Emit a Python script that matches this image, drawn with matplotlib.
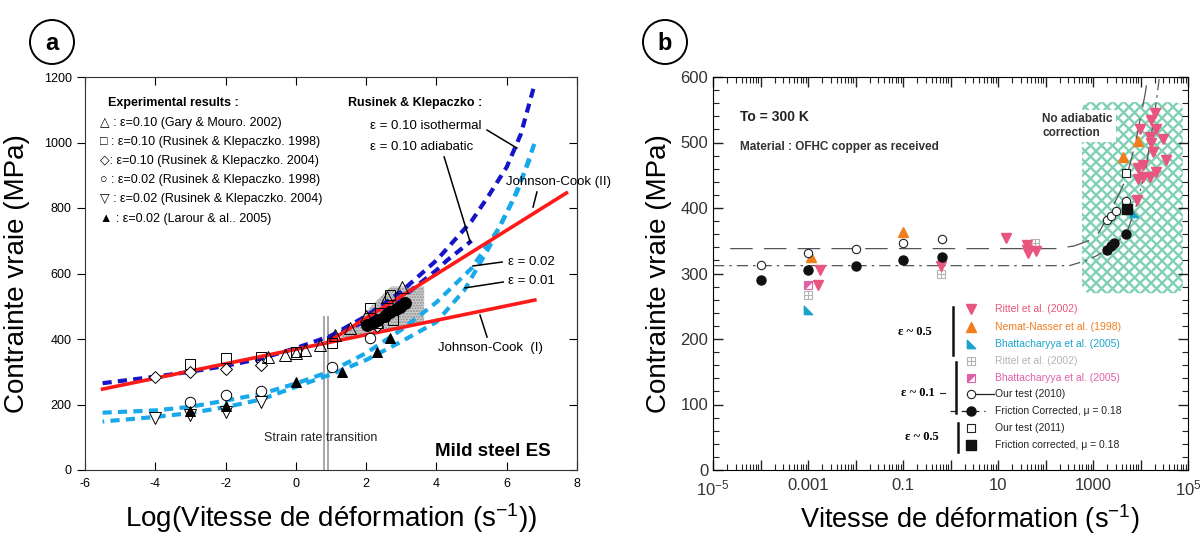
import numpy as np
import matplotlib.pyplot as plt
from matplotlib.patches import FancyBboxPatch, Polygon, Ellipse
from matplotlib.path import Path
from matplotlib.lines import Line2D
from matplotlib.ticker import MultipleLocator, LogLocator, FuncFormatter, NullFormatter

plt.rcParams['font.family'] = ['Liberation Sans', 'DejaVu Sans']
plt.rcParams['mathtext.default'] = 'regular'
plt.rcParams['axes.unicode_minus'] = False

# ---------------- panel a : mild steel ES ----------------
# experimental points (log strain rate, true stress MPa)
sq_x = [-3, -2, -1, 0, 1.03, 2.1, 2.4, 2.68, 2.77]
sq_y = [325, 342, 345, 360, 388, 494, 478, 534, 458]
dia_x = [-4, -3, -2, -1, 2.3]
dia_y = [285, 298, 308, 322, 440]
tri_x = [-0.8, -0.3, 0.0, 0.26, 0.69, 1.11, 1.54, 2.0, 2.3, 2.6, 3.02]
tri_y = [345, 350, 358, 366, 382, 412, 433, 470, 452, 528, 560]
circ_x = [-3, -2, -1, 1.03, 2.11]
circ_y = [208, 228, 242, 315, 403]
dtri_x = [-4, -3, -2, -1]
dtri_y = [159, 168, 177, 208]
ftri_x = [-3, -2, 0, 1.31, 2.3, 2.68]
ftri_y = [180, 196, 268, 299, 360, 403]
fcirc_x = [2.02, 2.2, 2.35, 2.55, 2.68, 2.85, 2.96, 3.1]
fcirc_y = [443, 450, 458, 470, 483, 492, 499, 510]

# Rusinek & Klepaczko model curves
iso_x = [-5.5, -4, -3, -2, -1, 0, 1, 2, 3, 4, 5, 5.5, 6, 6.4, 6.8]
iso_y = [265, 285, 300, 318, 340, 372, 410, 470, 545, 640, 760, 840, 925, 1025, 1180]
adia_x = [0.9, 2, 3, 4, 4.3, 5.0]
adia_y = [402, 455, 525, 610, 640, 700]
e02_x = [-5.5, -4, -3, -2, -1, 0, 1, 2, 3, 4, 5, 5.8, 6.3, 6.8]
e02_y = [175, 182, 193, 212, 232, 264, 302, 357, 428, 512, 616, 742, 850, 1000]
e01_x = [-5.5, -4, -3, -2, -1, 0, 1, 2, 3, 4, 4.8, 5.5, 6.2, 6.7]
e01_y = [148, 162, 174, 192, 215, 254, 292, 336, 392, 452, 550, 680, 830, 960]

# Johnson-Cook fits
jc1_x = [-5.5, 6.8]
jc1_y = [247, 519]
jc2_x = [0.9, 7.7]
jc2_y = [390, 846]

transition_x = [0.80, 0.92]
shade_x = [1.2, 2.7, 3.65, 3.65]
shade_y = [397, 560, 560, 450]

# ---------------- panel b : OFHC copper ----------------
open10_x = [1e-4, 1e-3, 1e-2, 1e-1, 0.66, 2000, 2400, 3000, 5000]
open10_y = [313, 331, 337, 347, 352, 382, 388, 395, 410]
fill10_x = [1e-4, 1e-3, 1e-2, 1e-1, 0.66, 2000, 2400, 2800, 5000]
fill10_y = [290, 305, 311, 320, 325, 336, 342, 347, 360]
open11_x = [5000]
open11_y = [453]
fill11_x = [5200]
fill11_y = [399]
nemat_x = [0.00115, 0.1, 4300, 8900]
nemat_y = [325, 363, 478, 502]
bhat05_x = [0.001, 7400]
bhat05_y = [244, 392]
rittel05_x = [0.0018, 14.8, 40, 41, 42, 0.0016, 63, 0.64,
              20400, 16600, 21400, 9800, 15800, 29500, 16600, 18600,
              34700, 11200, 8900, 21400, 11200, 8900, 15800, 8500]
rittel05_y = [305, 354, 343, 336, 331, 283, 334, 312,
              545, 534, 521, 521, 509, 505, 499, 486,
              473, 466, 461, 455, 447, 445, 447, 412]
rittel01_x = [0.001, 0.62, 60]
rittel01_y = [267, 300, 346]
bhat01_x = [0.001]
bhat01_y = [283]

# fitted trends
fit10_x = [2.3e-5, 1.6e2, 4e2, 8e2, 1.26e3, 2e3, 3.2e3, 5e3, 7.9e3, 1.26e4, 1.41e4]
fit10_y = [338, 338, 342, 350, 360, 385, 415, 445, 500, 575, 600]
fitfc_x = [1e-5, 3.2e2, 7.4e2, 1.26e3, 2e3, 3.2e3, 5e3, 7.9e3, 1.26e4, 2e4, 2.5e4]
fitfc_y = [312, 312, 320, 328, 338, 348, 360, 400, 455, 545, 600]

W, H = 1203, 535
fig = plt.figure(figsize=(W / 100, H / 100), dpi=100)
ax1 = fig.add_axes([85 / W, 65 / H, 492 / W, 393 / H])
ax2 = fig.add_axes([713 / W, 65 / H, 475 / W, 393 / H])

# ---- panel a drawing ----
ax1.set_xlim(-6, 8)
ax1.set_ylim(0, 1200)
ax1.add_patch(Polygon(np.column_stack([shade_x, shade_y]), closed=True,
                      facecolor='#cfcfcf', edgecolor='#8a8a8a', hatch='......',
                      linewidth=0, zorder=1))
for xv in transition_x:
    ax1.plot([xv, xv], [0, 467], color='#a8a8a8', lw=1.4, zorder=1)

ax1.plot(iso_x, iso_y, color='#1414c8', lw=3, dashes=(2.2, 1.5), zorder=2)
ax1.plot(adia_x, adia_y, color='#1414c8', lw=3, dashes=(2.2, 1.5), zorder=2)
ax1.plot(e02_x, e02_y, color='#19a9ea', lw=3, dashes=(2.2, 1.5), zorder=2)
ax1.plot(e01_x, e01_y, color='#19a9ea', lw=3, linestyle=(1.8, (2.2, 1.5)), zorder=2)
ax1.plot(jc1_x, jc1_y, color='#ff1a1a', lw=2.6, zorder=3)
ax1.plot(jc2_x, jc2_y, color='#ff1a1a', lw=2.6, zorder=3)

mk = dict(linestyle='none', markeredgecolor='black', markeredgewidth=0.7, zorder=4)
ax1.plot(sq_x, sq_y, marker='s', ms=7, mfc='none', **mk)
ax1.plot(dia_x, dia_y, marker='D', ms=6, mfc='white', **mk)
ax1.plot(tri_x, tri_y, marker='^', ms=8, mfc='none', **mk)
ax1.plot(circ_x, circ_y, marker='o', ms=7.5, mfc='white', **mk)
ax1.plot(dtri_x, dtri_y, marker='v', ms=8, mfc='white', **mk)
ax1.plot(ftri_x, ftri_y, marker='^', ms=7, mfc='black', **mk)
ax1.plot(fcirc_x, fcirc_y, marker='o', ms=8.5, mfc='black', **mk)

# annotations
fs = 9
ax1.text(-5.35, 1121, 'Experimental results :', fontsize=fs, weight='bold', va='center')
legend_a = ['\u25b3 : \u03b5=0.10 (Gary & Mouro. 2002)',
            '\u25a1 : \u03b5=0.10 (Rusinek & Klepaczko. 1998)',
            '\u25c7: \u03b5=0.10 (Rusinek & Klepaczko. 2004)',
            '\u25cb : \u03b5=0.02 (Rusinek & Klepaczko. 1998)',
            '\u25bd : \u03b5=0.02 (Rusinek & Klepaczko. 2004)',
            '\u25b2 : \u03b5=0.02 (Larour & al.. 2005)']
for i, s in enumerate(legend_a):
    ax1.text(-5.57, 1060 - i * 58.5, s, fontsize=fs, va='center')
ax1.text(1.48, 1121, 'Rusinek & Klepaczko :', fontsize=fs, weight='bold', va='center')
ax1.text(2.11, 1050, '\u03b5 = 0.10 isothermal', fontsize=9.5, va='center')
ax1.text(2.11, 986, '\u03b5 = 0.10 adiabatic', fontsize=9.5, va='center')
ax1.text(5.98, 879, 'Johnson-Cook (II)', fontsize=9.5, va='center')
ax1.text(6.04, 635, '\u03b5 = 0.02', fontsize=9.5, va='center')
ax1.text(6.04, 577, '\u03b5 = 0.01', fontsize=9.5, va='center')
ax1.text(4.05, 372, 'Johnson-Cook  (I)', fontsize=9.5, va='center')
ax1.text(-0.91, 98, 'Strain rate transition', fontsize=9, va='center', color='#222')
ax1.text(3.96, 58, 'Mild steel ES', fontsize=13.5, weight='bold', va='center')

leaders = [((5.44, 6.29), (1038, 983)), ((4.22, 4.96), (956, 696)),
           ((6.86, 6.75), (849, 803)), ((5.87, 5.04), (635, 623)),
           ((5.9, 4.81), (574, 556)), ((5.44, 5.24), (406, 473))]
for lx, ly in leaders:
    ax1.plot(lx, ly, color='black', lw=1.1, zorder=5)

ax1.set_xticks(range(-6, 9, 2))
ax1.set_yticks(range(0, 1201, 200))
ax1.tick_params(axis='x', direction='in', top=True, length=6, labelsize=9, pad=6)
ax1.tick_params(axis='y', direction='out', length=6, labelsize=9)
sec = ax1.secondary_yaxis('right')
sec.set_yticks(range(0, 1201, 200))
sec.tick_params(direction='in', length=6, labelright=False)
for sp in list(ax1.spines.values()) + [sec.spines['right']]:
    sp.set_color('#333333')
ax1.set_xlabel('Log(Vitesse de déformation (s$^{-1}$))', fontsize=20)
ax1.xaxis.set_label_coords(0.5, -0.122)
ax1.xaxis.label.set_va('center')
ax1.set_ylabel('Contrainte vraie (MPa)', fontsize=20, labelpad=10)

# ---- panel b drawing ----
ax2.set_xscale('log')
ax2.set_xlim(1e-5, 1e5)
ax2.set_ylim(0, 600)

bx0, by0, bw, bh = 0.777, 0.450, 0.212, 0.486
hatch_box = FancyBboxPatch((bx0, by0), bw, bh, boxstyle='round,pad=0,rounding_size=0.02',
                           transform=ax2.transAxes, facecolor='white', edgecolor='none', zorder=1)
ax2.add_patch(hatch_box)
AW, AH = 475.0, 393.0
for c in np.arange(bx0 * AW - AH, (bx0 + bw) * AW + AH, 11.0):
    for sgn in (1, -1):
        ln = Line2D([c / AW, (c + sgn * AH) / AW], [0, 1], transform=ax2.transAxes,
                    color='#80d0b4', lw=1.7, zorder=1.5)
        ax2.add_line(ln)
        ln.set_clip_path(hatch_box)
ax2.text(0.693, 0.875, 'No adiabatic\ncorrection', transform=ax2.transAxes, fontsize=8.5,
         weight='bold', color='#333333', va='center', linespacing=1.3,
         bbox=dict(facecolor='white', edgecolor='none', pad=2), zorder=2)

ax2.plot(fit10_x, fit10_y, color='#555555', lw=0.9, dashes=(18, 9), zorder=2)
ax2.plot(fitfc_x, fitfc_y, color='#555555', lw=0.9, dashes=(9, 4, 2, 4), zorder=2)

pink = '#e8557e'
orange = '#f07d1e'
cyan = '#1ba3cc'
gray = '#b4b4b4'
magenta = '#e060a8'
corner_tri = Path([(-1, -1), (-1, 1), (1, -1), (-1, -1)])
half_sq = Path([(-1, -1), (-1, 1), (1, 1), (-1, -1)])

def draw_markers(ax, x, y, kind, transform=None, clip=True):
    kw = dict(linestyle='none', zorder=4, clip_on=clip)
    if transform is not None:
        kw['transform'] = transform
    if kind == 'rittel05':
        ax.plot(x, y, marker='v', ms=7, color=pink, mec=pink, **kw)
    elif kind == 'nemat':
        ax.plot(x, y, marker='^', ms=7, color=orange, mec=orange, **kw)
    elif kind == 'bhat05':
        ax.plot(x, y, marker=corner_tri, ms=6, color=cyan, mec=cyan, **kw)
    elif kind == 'rittel01':
        ax.plot(x, y, marker='s', ms=6, mfc='white', mec=gray, mew=0.8, **kw)
        ax.plot(x, y, marker='+', ms=6, mec=gray, mew=0.8, **kw)
    elif kind == 'bhat01':
        ax.plot(x, y, marker='s', ms=6, mfc='white', mec=magenta, mew=0.8, **kw)
        ax.plot(x, y, marker=half_sq, ms=4.2, color=magenta, mec=magenta, **kw)
    elif kind == 'open10':
        ax.plot(x, y, marker='o', ms=6, mfc='white', mec='#222222', mew=0.8, **kw)
    elif kind == 'fill10':
        ax.plot(x, y, marker='o', ms=6.5, color='#111111', **kw)
    elif kind == 'open11':
        ax.plot(x, y, marker='s', ms=6, mfc='white', mec='#222222', mew=0.8, **kw)
    elif kind == 'fill11':
        ax.plot(x, y, marker='s', ms=7, color='#111111', **kw)

draw_markers(ax2, rittel01_x, rittel01_y, 'rittel01')
draw_markers(ax2, bhat01_x, bhat01_y, 'bhat01')
draw_markers(ax2, bhat05_x, bhat05_y, 'bhat05')
draw_markers(ax2, nemat_x, nemat_y, 'nemat')
draw_markers(ax2, rittel05_x, rittel05_y, 'rittel05')
draw_markers(ax2, open10_x, open10_y, 'open10')
draw_markers(ax2, fill10_x, fill10_y, 'fill10')
draw_markers(ax2, open11_x, open11_y, 'open11')
draw_markers(ax2, fill11_x, fill11_y, 'fill11')

ax2.text(0.057, 0.898, 'To = 300 K', transform=ax2.transAxes, fontsize=10,
         weight='bold', color='#222222', va='center')
ax2.text(0.057, 0.822, 'Material : OFHC copper as received', transform=ax2.transAxes,
         fontsize=8.5, weight='bold', color='#333333', va='center')

# hand-made legend
legend_rows = [('rittel05', 'Rittel et al. (2002)', pink),
               ('nemat', 'Nemat-Nasser et al. (1998)', orange),
               ('bhat05', 'Bhattacharyya et al. (2005)', cyan),
               ('rittel01', 'Rittel et al. (2002)', gray),
               ('bhat01', 'Bhattacharyya et al. (2005)', magenta),
               ('open10', 'Our test (2010)', '#222222'),
               ('fill10', 'Friction Corrected, \u03bc = 0.18', '#222222'),
               ('open11', 'Our test (2011)', '#222222'),
               ('fill11', 'Friction corrected, \u03bc = 0.18', '#222222')]
row_y = [0.410, 0.364, 0.321, 0.277, 0.234, 0.193, 0.150, 0.107, 0.064]
tr = ax2.transAxes
for (kind, label, col), yy in zip(legend_rows, row_y):
    if kind == 'open10':
        ax2.plot([0.543, 0.592], [yy, yy], color='#222222', lw=0.9, transform=tr, zorder=3)
    if kind == 'fill10':
        ax2.plot([0.499, 0.573], [yy, yy], color='#222222', lw=0.9, dashes=(5, 4),
                 transform=tr, zorder=3)
    draw_markers(ax2, [0.543], [yy], kind, transform=tr, clip=False)
    ax2.text(0.594, yy, label, transform=tr, fontsize=7.5, color=col, va='center')
for txt, xx, yy in [('\u03b5 ~ 0.5', 0.425, 0.351), ('\u03b5 ~ 0.1', 0.432, 0.196),
                    ('\u03b5 ~ 0.5', 0.440, 0.084)]:
    ax2.text(xx, yy, txt, transform=tr, fontsize=9, weight='bold', ha='center', va='center',
             family=['Liberation Serif', 'DejaVu Serif'])
for xx, y0, y1 in [(0.505, 0.293, 0.415), (0.512, 0.145, 0.275), (0.516, 0.046, 0.120)]:
    ax2.plot([xx, xx], [y0, y1], color='#111111', lw=1.8, transform=tr, zorder=3)
ax2.plot([0.478, 0.488], [0.196, 0.196], color='#222222', lw=0.8, transform=tr)

ax2.xaxis.set_major_locator(LogLocator(base=10, numticks=20))
ax2.xaxis.set_minor_locator(LogLocator(base=10, subs=np.arange(2, 10), numticks=20))
ax2.xaxis.set_minor_formatter(NullFormatter())

def decade_label(v, pos):
    e = int(round(np.log10(v)))
    if e % 2 == 0:
        return ''
    if e in (-5, 5):
        return '10$^{%d}$' % e
    return {-3: '0.001', -1: '0.1', 1: '10', 3: '1000'}[e]

ax2.xaxis.set_major_formatter(FuncFormatter(decade_label))
ax2.yaxis.set_major_locator(MultipleLocator(100))
ax2.yaxis.set_minor_locator(MultipleLocator(20))
ax2.tick_params(which='both', direction='in', top=True, right=True, colors='#222222',
                labelcolor='#333333', labelsize=12)
ax2.tick_params(which='major', length=7, width=1)
ax2.tick_params(which='minor', length=4, width=0.8)
ax2.tick_params(axis='x', pad=6)
ax2.set_xlabel('Vitesse de déformation (s$^{-1}$)', fontsize=19.5)
ax2.xaxis.set_label_coords(0.54, -0.124)
ax2.xaxis.label.set_va('center')
ax2.set_ylabel('Contrainte vraie (MPa)', fontsize=20, labelpad=6)

# panel tags
for tag, cx in [('a', 52), ('b', 665)]:
    fig.add_artist(Ellipse((cx / W, 1 - 42 / H), 44 / W, 44 / H, transform=fig.transFigure,
                           facecolor='white', edgecolor='black', lw=1.4))
    fig.text(cx / W, 1 - 43 / H, tag, fontsize=17, weight='bold', ha='center', va='center')

fig.savefig('out.png', dpi=100)
